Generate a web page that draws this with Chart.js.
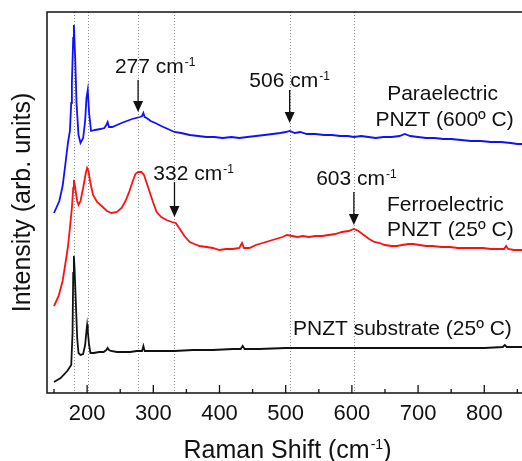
<!DOCTYPE html>
<html>
<head>
<meta charset="utf-8">
<script src="https://cdn.jsdelivr.net/npm/chart.js@4"></script>
<style>
  html, body { margin: 0; padding: 0; background: #fff; }
  canvas { display: block; }
</style>
</head>
<body>
<canvas id="chart" width="522" height="461"></canvas>
<script>
// Paraelectric PNZT (600 C) - blue
const paraShift = [150,158,163,167,171,174,176,177,179,180,182,184,187,190,194,197,199,201,203,206,212,220,226,229,231,233,238,245,252,260,268,274,280,283,285,287,290,296,303,312,322,332,342,355,368,380,392,405,418,430,442,455,468,480,492,500,506,514,522,532,545,558,570,582,594,603,614,625,636,648,660,672,680,688,700,712,725,738,750,765,780,795,810,825,840,850,857];
const paraIntensity = [180,192,207,228,250,262,290,310,355,368,335,290,258,250,255,272,295,303,280,262,263,264,265,268,271,266,266,268,270,272,274,275,276,277,280,276,275,272,270,267,264,261,260,258,257,256,256,255,256,255,256,257,258,259,260,261,262,260,261,259,259,258,258,257,257,256,257,256,255,256,256,257,259,257,256,255,255,254,254,253,252,252,251,251,250,249,249];

// Ferroelectric PNZT (25 C) - red
const ferroShift = [150,157,163,168,171,174,177,179,180,182,185,187,190,194,198,200,202,205,209,215,222,230,237,245,252,258,264,269,273,277,282,286,290,295,300,305,312,320,328,334,340,347,355,362,370,380,390,400,410,420,430,434,437,445,455,465,475,485,495,502,510,518,526,535,545,555,565,575,585,595,603,610,618,626,634,642,650,660,668,676,685,693,702,712,722,735,748,760,772,785,798,810,822,830,833,836,845,857];
const ferroIntensity = [87,97,112,133,146,165,185,205,213,205,192,188,192,205,220,225,222,210,198,191,187,182,180,181,185,192,202,212,219,221,221,218,210,200,190,181,176,173,171,170,164,157,151,149,147,146,145,143,144,144,145,150,145,145,148,150,152,154,156,158,157,156,157,156,157,157,158,159,161,162,164,162,158,154,151,150,148,147,147,148,149,149,148,147,147,146,146,145,145,145,145,144,144,144,147,144,143,143];

// PNZT substrate (25 C) - black
const substrateShift = [150,160,170,176,178,179,180,181,183,185,187,190,194,197,199,200,201,203,205,210,218,225,229,231,233,236,245,255,265,275,283,285,287,295,310,332,360,390,420,432,435,438,460,500,550,603,650,700,750,800,828,831,834,845,857];
const substrateIntensity = [11,15,22,28,60,120,137,125,90,55,40,38,39,48,62,68,62,48,40,40,41,41,43,45,43,42,41,41,41,42,42,47,42,42,42,42,43,43,44,44,47,44,44,45,45,45,45,45,45,45,46,48,46,46,46];

const tickValues = [200, 300, 400, 500, 600, 700, 800];
const minorTickValues = [150, 250, 350, 450, 550, 650, 750, 850];
const markerLines = [180, 202, 277, 332, 506, 603];
const peakLabels = ['277', '506', '332', '603'];

const FONT = '"Liberation Sans", Arial, Helvetica, sans-serif';

function toPoints(xs, ys) {
  return xs.map((x, i) => ({ x: x, y: ys[i] }));
}

// draws text with superscript parts; parts = [[text, isSup], ...]
function drawParts(ctx, parts, x, y, size, align) {
  const supSize = Math.round(size * 0.58);
  let total = 0;
  const widths = parts.map(p => {
    ctx.font = (p[1] ? supSize : size) + 'px ' + FONT;
    const w = ctx.measureText(p[0]).width + (p[1] ? 1 : 0);
    total += w;
    return w;
  });
  let cx = align === 'center' ? x - total / 2 : x;
  ctx.textAlign = 'left';
  ctx.textBaseline = 'alphabetic';
  parts.forEach((p, i) => {
    ctx.font = (p[1] ? supSize : size) + 'px ' + FONT;
    const dy = p[1] ? -(0.716 * (size - supSize) + 1) : 0;
    ctx.fillText(p[0], cx + (p[1] ? 1 : 0), y + dy);
    cx += widths[i];
  });
}

const annotations = {
  id: 'annotations',
  beforeDatasetsDraw(chart) {
    const ctx = chart.ctx;
    const area = chart.chartArea;
    const xs = chart.scales.x;
    ctx.save();
    ctx.strokeStyle = '#8a8a8a';
    ctx.lineWidth = 1;
    ctx.setLineDash([1, 2]);
    markerLines.forEach(v => {
      const px = Math.round(xs.getPixelForValue(v)) + 0.5;
      ctx.beginPath();
      ctx.moveTo(px, area.top);
      ctx.lineTo(px, area.bottom);
      ctx.stroke();
    });
    ctx.restore();
  },
  afterDatasetsDraw(chart) {
    const ctx = chart.ctx;
    const area = chart.chartArea;
    const xs = chart.scales.x;
    const ys = chart.scales.y;
    ctx.save();

    // frame
    ctx.strokeStyle = '#111';
    ctx.lineWidth = 1.5;
    ctx.beginPath();
    ctx.moveTo(area.right + 2, area.top);
    ctx.lineTo(area.left, area.top);
    ctx.lineTo(area.left, area.bottom);
    ctx.lineTo(area.right + 2, area.bottom);
    ctx.stroke();

    // inward ticks
    ctx.lineWidth = 1.3;
    tickValues.forEach(v => {
      const px = xs.getPixelForValue(v);
      ctx.beginPath();
      ctx.moveTo(px, area.bottom);
      ctx.lineTo(px, area.bottom - 8);
      ctx.stroke();
    });
    minorTickValues.forEach(v => {
      const px = xs.getPixelForValue(v);
      ctx.beginPath();
      ctx.moveTo(px, area.bottom);
      ctx.lineTo(px, area.bottom - 4);
      ctx.stroke();
    });

    // arrows with peak labels
    const cfg = chart.options.plugins.annotations.peaks;
    ctx.fillStyle = '#111';
    cfg.forEach((a, i) => {
      const px = xs.getPixelForValue(Number(peakLabels[i]));
      const y1 = ys.getPixelForValue(a.from);
      const y2 = ys.getPixelForValue(a.to);
      ctx.lineWidth = 1.3;
      ctx.beginPath();
      ctx.moveTo(px, y1);
      ctx.lineTo(px, y2 - 10);
      ctx.stroke();
      ctx.beginPath();
      ctx.moveTo(px - 5, y2 - 11);
      ctx.lineTo(px + 5, y2 - 11);
      ctx.lineTo(px, y2);
      ctx.closePath();
      ctx.fill();
      drawParts(ctx, [[peakLabels[i] + ' cm', false], ['-1', true]],
        xs.getPixelForValue(a.textX), ys.getPixelForValue(a.textY), 21, 'left');
    });

    // series labels
    chart.options.plugins.annotations.labels.forEach(l => {
      ctx.font = '21px ' + FONT;
      ctx.textAlign = l.align;
      ctx.textBaseline = 'alphabetic';
      ctx.fillText(l.text, xs.getPixelForValue(l.x), ys.getPixelForValue(l.y));
    });

    // x axis title
    drawParts(ctx, [['Raman Shift (cm', false], ['-1', true], [')', false]],
      (area.left + area.right) / 2 + 3, 458, 25, 'center');

    ctx.restore();
  }
};

new Chart(document.getElementById('chart'), {
  type: 'line',
  data: {
    datasets: [
      {
        label: 'Paraelectric PNZT (600º C)',
        data: toPoints(paraShift, paraIntensity),
        borderColor: '#1010ff',
        borderWidth: 1.8,
        pointRadius: 0,
        tension: 0
      },
      {
        label: 'Ferroelectric PNZT (25º C)',
        data: toPoints(ferroShift, ferroIntensity),
        borderColor: '#ff1010',
        borderWidth: 1.8,
        pointRadius: 0,
        tension: 0
      },
      {
        label: 'PNZT substrate (25º C)',
        data: toPoints(substrateShift, substrateIntensity),
        borderColor: '#111111',
        borderWidth: 1.8,
        pointRadius: 0,
        tension: 0
      }
    ]
  },
  options: {
    responsive: false,
    animation: false,
    devicePixelRatio: 1,
    layout: { padding: { top: 12, right: 0, left: 0, bottom: 0 } },
    plugins: {
      legend: { display: false },
      tooltip: { enabled: false },
      annotations: {
        peaks: [
          { from: 313, to: 281, textX: 242, textY: 320 },
          { from: 303, to: 270, textX: 445, textY: 306 },
          { from: 211, to: 176, textX: 300, textY: 213 },
          { from: 201, to: 168, textX: 546, textY: 208 }
        ],
        labels: [
          { text: 'Paraelectric', x: 737, y: 293, align: 'center' },
          { text: 'PNZT (600º C)', x: 740, y: 267, align: 'center' },
          { text: 'Ferroelectric', x: 653, y: 182, align: 'left' },
          { text: 'PNZT (25º C)', x: 653, y: 157, align: 'left' },
          { text: 'PNZT substrate (25º C)', x: 511, y: 58, align: 'left' }
        ]
      }
    },
    scales: {
      x: {
        type: 'linear',
        min: 139.4,
        max: 857,
        afterBuildTicks: s => { s.ticks = tickValues.map(v => ({ value: v })); },
        afterFit: s => { s.height = 68; },
        ticks: {
          font: { family: FONT, size: 22 },
          color: '#111',
          padding: 8,
          maxRotation: 0,
          autoSkip: false
        },
        grid: { display: false, drawTicks: false },
        border: { display: false }
      },
      y: {
        min: 0,
        max: 381,
        afterFit: s => { s.width = 47; },
        ticks: { display: false },
        grid: { display: false, drawTicks: false },
        border: { display: false },
        title: {
          display: true,
          text: 'Intensity (arb. units)',
          font: { family: FONT, size: 25 },
          color: '#111',
          padding: { top: 8, bottom: 0 }
        }
      }
    }
  },
  plugins: [annotations]
});
</script>
</body>
</html>
